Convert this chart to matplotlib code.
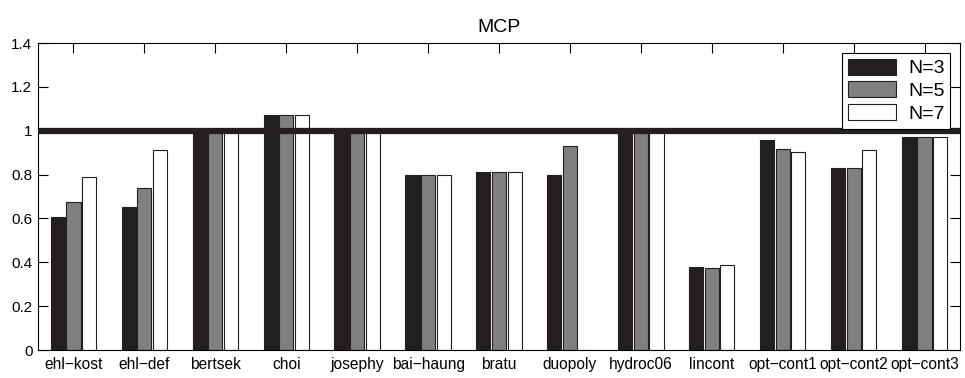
import numpy as np
import matplotlib.pyplot as plt

plt.rcParams['font.family'] = ['Liberation Sans', 'DejaVu Sans']

# data
problems = ['ehl−kost', 'ehl−def', 'bertsek', 'choi', 'josephy', 'bai−haung', 'bratu',
            'duopoly', 'hydroc06', 'lincont', 'opt−cont1', 'opt−cont2', 'opt−cont3']
n3 = [0.606, 0.652, 1.0, 1.072, 1.0, 0.80, 0.81, 0.80, 1.0, 0.378, 0.956, 0.828, 0.973]
n5 = [0.673, 0.739, 1.0, 1.072, 1.0, 0.80, 0.81, 0.932, 1.0, 0.375, 0.918, 0.828, 0.970]
n7 = [0.790, 0.912, 1.0, 1.072, 1.0, 0.80, 0.81, 0.0, 1.0, 0.390, 0.904, 0.913, 0.970]
series_labels = ['N=3', 'N=5', 'N=7']
colors = ['#231f20', '#808080', 'white']

fig = plt.figure(figsize=(9.65, 3.78), dpi=100)
ax = fig.add_axes([0.0394, 0.074, 0.9554, 0.812])

x = np.arange(1, len(problems) + 1)
w = 0.2
offsets = [-0.22, 0.0, 0.22]
for vals, off, c, lab in zip([n3, n5, n7], offsets, colors, series_labels):
    ax.bar(x + off, vals, width=w, color=c, edgecolor='#231f20', linewidth=0.8,
           label=lab, zorder=2)

ax.axhline(1.0, color='#231f20', linewidth=4.5, zorder=3)

ax.set_xlim(0.5, len(problems) + 0.5)
ax.set_ylim(0, 1.4)
ax.set_xticks(x)
ax.set_xticklabels(problems, fontsize=11.2)
ax.set_yticks(np.arange(0, 1.41, 0.2))
ax.set_yticklabels(['0', '0.2', '0.4', '0.6', '0.8', '1', '1.2', '1.4'], fontsize=11)
ax.tick_params(direction='in', top=True, right=True, length=7, width=0.8)
ax.tick_params(axis='x', pad=5)
ax.tick_params(axis='y', pad=4)
for s in ax.spines.values():
    s.set_linewidth(0.8)
ax.set_title('MCP', fontsize=14, pad=8)

leg = ax.legend(loc='upper right', fontsize=14, fancybox=False, edgecolor='black',
                framealpha=1, borderaxespad=0.5, handlelength=2.5, handleheight=0.9,
                labelspacing=0.2, borderpad=0.3, handletextpad=0.6)
leg.get_frame().set_linewidth(0.8)
leg.set_zorder(5)

fig.savefig('out.png', dpi=100)
